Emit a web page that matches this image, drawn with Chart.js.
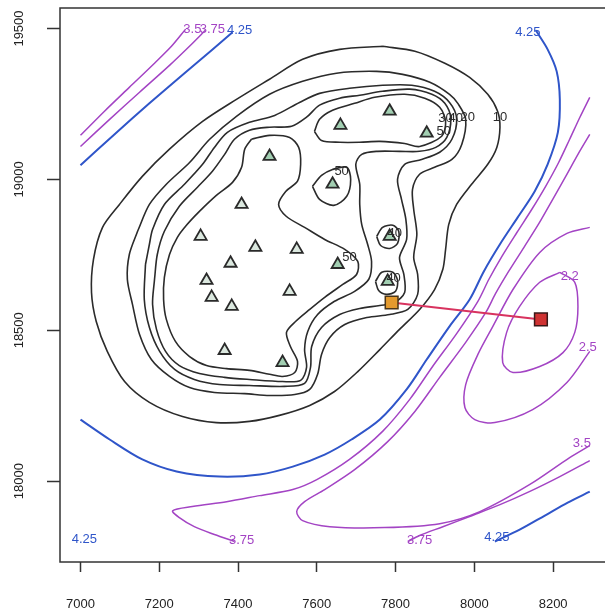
<!DOCTYPE html>
<html>
<head>
<meta charset="utf-8">
<script src="https://cdn.jsdelivr.net/npm/chart.js@4"></script>
<style>
  html, body { margin: 0; padding: 0; background: #fff; overflow: hidden; }
  #wrap { width: 616px; height: 613px; }
</style>
</head>
<body>
<div id="wrap"><canvas id="contourChart" width="616" height="613"></canvas></div>
<script>
// axis ticks
const xTicks = [7000, 7200, 7400, 7600, 7800, 8000, 8200];
const yTicks = [18000, 18500, 19000, 19500];

// concentration contours (easting, northing)
const level10 = [[7767,19441],[7849,19425],[7925,19385],[7988,19338],[8034,19282],[8059,19226],[8065,19173],[8057,19106],[8034,19050],[7993,18984],[7955,18917],[7935,18851],[7927,18768],[7920,18702],[7899,18635],[7861,18569],[7810,18503],[7760,18436],[7704,18363],[7645,18297],[7582,18251],[7505,18218],[7429,18198],[7345,18194],[7259,18214],[7175,18261],[7112,18330],[7068,18430],[7040,18529],[7028,18625],[7033,18735],[7056,18841],[7099,18917],[7157,19010],[7226,19100],[7310,19192],[7396,19265],[7480,19332],[7564,19398],[7658,19431],[7767,19441]];
const level20 = [[7145,18828],[7175,18917],[7218,18984],[7277,19056],[7328,19133],[7396,19209],[7480,19282],[7564,19325],[7650,19352],[7752,19358],[7818,19348],[7887,19322],[7937,19282],[7958,19252],[7978,19199],[7968,19116],[7943,19066],[7899,19040],[7861,19017],[7843,18967],[7846,18901],[7854,18818],[7846,18741],[7856,18685],[7856,18619],[7831,18569],[7785,18552],[7727,18542],[7671,18519],[7633,18476],[7612,18420],[7602,18354],[7582,18304],[7544,18287],[7480,18284],[7417,18290],[7340,18294],[7277,18310],[7226,18347],[7180,18403],[7150,18486],[7132,18586],[7119,18669],[7124,18751],[7145,18828]];
const level30 = [[7165,18718],[7175,18785],[7183,18834],[7213,18917],[7264,18984],[7310,19050],[7340,19106],[7373,19156],[7429,19189],[7493,19212],[7556,19255],[7607,19285],[7683,19302],[7767,19312],[7841,19312],[7899,19292],[7937,19255],[7955,19202],[7943,19133],[7912,19090],[7866,19066],[7823,19050],[7805,19000],[7815,18934],[7826,18868],[7828,18801],[7810,18741],[7821,18685],[7823,18625],[7798,18592],[7760,18582],[7709,18572],[7658,18552],[7612,18509],[7587,18446],[7584,18377],[7569,18324],[7518,18314],[7429,18317],[7353,18320],[7289,18337],[7239,18370],[7201,18430],[7175,18509],[7162,18602],[7165,18718]];
const level40 = [[7188,18669],[7195,18751],[7213,18828],[7251,18911],[7297,18974],[7335,19027],[7366,19083],[7391,19133],[7429,19163],[7480,19173],[7536,19176],[7574,19206],[7607,19246],[7658,19269],[7709,19279],[7767,19292],[7836,19299],[7892,19282],[7925,19252],[7940,19202],[7930,19139],[7902,19106],[7861,19093],[7810,19093],[7754,19093],[7714,19083],[7699,19050],[7709,18984],[7709,18917],[7714,18851],[7729,18785],[7739,18728],[7732,18669],[7696,18629],[7645,18596],[7602,18552],[7577,18496],[7569,18436],[7574,18377],[7559,18334],[7513,18330],[7429,18337],[7366,18344],[7302,18357],[7251,18383],[7216,18430],[7193,18503],[7183,18586],[7188,18669]];
const level40North = [[7752,18811],[7767,18841],[7793,18848],[7808,18828],[7805,18788],[7785,18771],[7762,18781],[7752,18811]];
const level40South = [[7749,18662],[7765,18692],[7793,18692],[7805,18665],[7800,18629],[7777,18619],[7757,18632],[7749,18662]];
const level50West = [[7434,19133],[7480,19146],[7531,19139],[7554,19106],[7559,19050],[7551,18994],[7521,18960],[7503,18917],[7523,18877],[7569,18841],[7620,18801],[7671,18768],[7704,18728],[7701,18685],[7666,18652],[7620,18609],[7582,18569],[7546,18529],[7523,18493],[7533,18446],[7551,18397],[7544,18360],[7513,18347],[7480,18354],[7429,18367],[7371,18373],[7320,18383],[7277,18413],[7241,18463],[7218,18536],[7211,18602],[7213,18675],[7226,18751],[7246,18808],[7269,18848],[7302,18894],[7345,18947],[7386,18990],[7409,19040],[7417,19100],[7434,19133]];
const level50North = [[7594,19159],[7607,19199],[7640,19229],[7696,19252],[7747,19272],[7823,19282],[7874,19269],[7912,19239],[7927,19192],[7917,19143],[7861,19109],[7823,19119],[7760,19126],[7709,19123],[7658,19123],[7612,19129],[7594,19159]];
const level50Small = [[7589,18977],[7612,19013],[7640,19033],[7676,19040],[7686,19000],[7676,18944],[7643,18914],[7607,18934],[7589,18977]];

// travel time contours
const time35West = [[7000,19146],[7061,19226],[7124,19305],[7188,19385],[7231,19441],[7267,19498]];
const time375West = [[7000,19109],[7074,19199],[7150,19289],[7226,19378],[7282,19448],[7317,19494]];
const time425West = [[7000,19047],[7086,19149],[7175,19252],[7264,19352],[7333,19428],[7386,19488]];
const time425Main = [[7000,18204],[7074,18138],[7157,18072],[7244,18032],[7353,18015],[7455,18022],[7539,18048],[7620,18088],[7688,18138],[7760,18204],[7828,18304],[7879,18403],[7937,18513],[7988,18602],[8024,18695],[8065,18785],[8110,18874],[8153,18960],[8186,19050],[8212,19156],[8217,19265],[8209,19358],[8186,19431],[8156,19494]];
const time425East = [[8052,17800],[8115,17839],[8179,17886],[8237,17929],[8293,17965]];
const time375Main = [[8293,19272],[8268,19206],[8242,19133],[8214,19056],[8181,18977],[8146,18901],[8108,18824],[8070,18745],[8037,18669],[8009,18596],[7955,18489],[7894,18380],[7836,18271],[7767,18165],[7683,18072],[7600,18005],[7539,17972],[7455,17952],[7371,17932],[7284,17916],[7234,17902],[7251,17879],[7289,17849],[7340,17823],[7391,17800]];
const time35Main = [[8293,19149],[8263,19083],[8232,19010],[8199,18934],[8164,18854],[8126,18775],[8087,18695],[8054,18622],[8029,18559],[7978,18460],[7912,18344],[7849,18231],[7780,18131],[7696,18038],[7620,17972],[7569,17932],[7549,17899],[7564,17869],[7633,17849],[7772,17846],[7912,17859],[8014,17899],[8141,17989],[8242,18078],[8293,18118]];
const time375East = [[8293,18068],[8217,18015],[8141,17966],[8065,17922],[7988,17883],[7920,17849],[7861,17820],[7831,17800]];
const time25 = [[8293,18841],[8235,18821],[8166,18758],[8098,18635],[8047,18513],[8009,18420],[7978,18320],[7976,18244],[8001,18204],[8052,18194],[8148,18237],[8235,18327],[8293,18430]];
const time22 = [[8217,18692],[8255,18659],[8263,18579],[8255,18493],[8225,18426],[8166,18380],[8098,18360],[8072,18393],[8082,18493],[8115,18579],[8166,18659],[8217,18692]];

// monitoring wells
const paleWells = [[7409,18917],[7305,18811],[7444,18775],[7549,18768],[7381,18722],[7320,18665],[7333,18609],[7384,18579],[7531,18629],[7366,18433]];
const greenWells = [[7480,19076],[7513,18393],[7660,19179],[7785,19226],[7879,19153],[7640,18984],[7653,18718],[7785,18811],[7780,18662]];
const sourceWell = [7790, 18592];
const targetWell = [8169, 18536];

// contour labels: text, easting, northing
const levelLabels = [['10',8065,19206],['20',7983,19206],['30',7927,19202],['40',7953,19202],['50',7922,19159],['50',7663,19027],['50',7683,18741],['40',7798,18821],['40',7795,18672]];
const purpleLabels = [['3.5',7284,19498],['3.75',7335,19498],['2.2',8242,18678],['2.5',8288,18443],['3.5',8273,18125],['3.75',7409,17803],['3.75',7861,17803]];
const blueLabels = [['4.25',7404,19494],['4.25',8136,19488],['4.25',7010,17806],['4.25',8057,17813]];

const FONT = '"Liberation Sans", Arial, Helvetica, sans-serif';
const BLACK = '#2b2b2b', BLUE = '#2f55c9', PURPLE = '#a344c4';

const toXY = pts => pts.map(p => ({ x: p[0], y: p[1] }));

function contour(pts, color, width) {
  return {
    data: toXY(pts), showLine: true, borderColor: color, borderWidth: width,
    pointRadius: 0, tension: 0.3, fill: false, order: 3
  };
}

const datasets = [
  { data: toXY(paleWells), pointStyle: 'triangle', pointRadius: 7, backgroundColor: '#dbe8df', borderColor: '#2a2a2a', borderWidth: 1.8, order: 0 },
  { data: toXY(greenWells), pointStyle: 'triangle', pointRadius: 7, backgroundColor: '#a2cfb2', borderColor: '#2a2a2a', borderWidth: 1.8, order: 0 },
  { data: toXY([sourceWell]), pointStyle: 'rect', pointRadius: 9, backgroundColor: '#e49a2e', borderColor: '#4a3518', borderWidth: 1.5, order: 0 },
  { data: toXY([targetWell]), pointStyle: 'rect', pointRadius: 9, backgroundColor: '#cf3232', borderColor: '#3a1818', borderWidth: 1.5, order: 0 },
  { data: toXY([sourceWell, targetWell]), showLine: true, borderColor: '#d8335f', borderWidth: 2, pointRadius: 0, order: 1 }
];

[level10, level20, level30, level40, level40North, level40South, level50West, level50North, level50Small]
  .forEach(l => datasets.push(contour(l, BLACK, 1.6)));
[time425West, time425Main, time425East].forEach(l => datasets.push(contour(l, BLUE, 2)));
[time35West, time375West, time375Main, time35Main, time375East, time25, time22]
  .forEach(l => datasets.push(contour(l, PURPLE, 1.5)));

// labels, frame and rotated y tick labels
const decorations = {
  id: 'decorations',
  afterDraw(chart) {
    const { ctx, chartArea, scales: { x, y } } = chart;
    ctx.save();
    ctx.font = '13px ' + FONT;
    ctx.textAlign = 'center';
    ctx.textBaseline = 'middle';
    [[levelLabels, BLACK], [purpleLabels, PURPLE], [blueLabels, BLUE]].forEach(([list, color]) => {
      ctx.fillStyle = color;
      list.forEach(([text, vx, vy]) => ctx.fillText(text, x.getPixelForValue(vx), y.getPixelForValue(vy)));
    });

    ctx.strokeStyle = '#333';
    ctx.lineWidth = 1.5;
    ctx.strokeRect(chartArea.left, chartArea.top, chartArea.right - chartArea.left, chartArea.bottom - chartArea.top);

    ctx.fillStyle = '#222';
    yTicks.forEach(v => {
      ctx.save();
      ctx.translate(19, y.getPixelForValue(v));
      ctx.rotate(-Math.PI / 2);
      ctx.fillText(String(v), 0, 0);
      ctx.restore();
    });
    ctx.restore();
  }
};

const ctx = document.getElementById('contourChart').getContext('2d');
const chart = new Chart(ctx, {
  type: 'scatter',
  data: { datasets: datasets },
  options: {
    responsive: false,
    animation: false,
    events: [],
    layout: { autoPadding: false, padding: { top: 8, right: 3, left: 0, bottom: 0 } },
    plugins: { legend: { display: false }, tooltip: { enabled: false } },
    scales: {
      x: {
        type: 'linear', min: 6948, max: 8352,
        afterBuildTicks: s => { s.ticks = xTicks.map(v => ({ value: v })); },
        afterFit: s => { s.height = 51; },
        border: { display: false },
        grid: { drawOnChartArea: false, tickLength: 10, tickWidth: 1.5, tickColor: '#333' },
        ticks: { color: '#222', font: { family: FONT, size: 13 }, padding: 25, maxRotation: 0, callback: v => String(v) }
      },
      y: {
        type: 'linear', min: 17732, max: 19568,
        afterBuildTicks: s => { s.ticks = yTicks.map(v => ({ value: v })); },
        afterFit: s => { s.width = 60; },
        border: { display: false },
        grid: { drawOnChartArea: false, tickLength: 13, tickWidth: 1.5, tickColor: '#333' },
        ticks: { display: false }
      }
    }
  },
  plugins: [decorations]
});
</script>
</body>
</html>
